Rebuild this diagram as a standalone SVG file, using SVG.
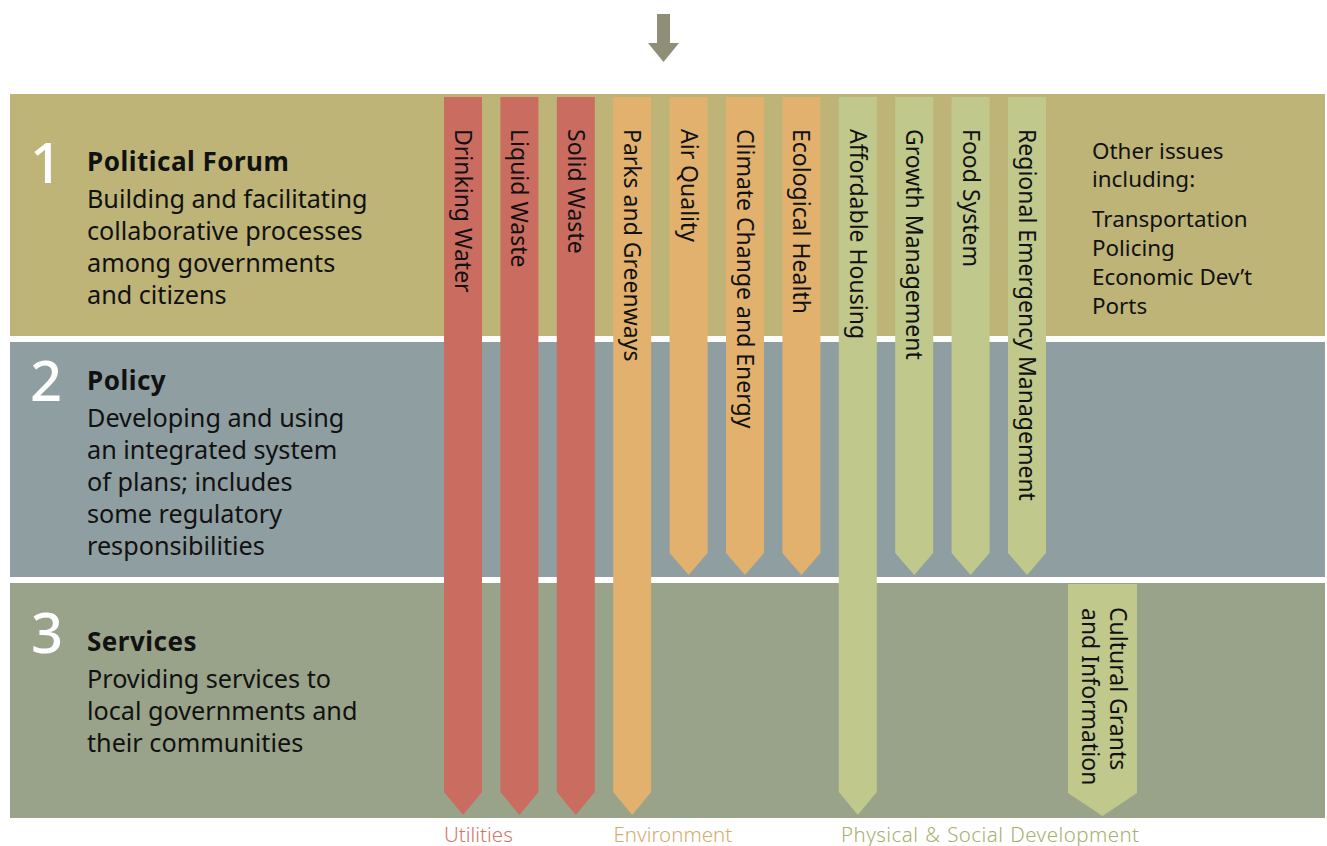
<svg xmlns="http://www.w3.org/2000/svg" width="1327" height="846" viewBox="0 0 1327 846">
<style>
.num{font-family:"Noto Sans","DejaVu Sans",sans-serif;font-size:56px;font-weight:500;fill:#ffffff;text-anchor:middle}
.head{font-family:"Noto Sans","DejaVu Sans",sans-serif;font-size:26px;font-weight:bold;letter-spacing:0.5px;fill:#111}
.body{font-family:"Noto Sans","DejaVu Sans",sans-serif;font-size:25.2px;fill:#111}
.side{font-family:"Noto Sans","DejaVu Sans",sans-serif;font-size:22.4px;fill:#111}
.col{font-family:"Noto Sans","DejaVu Sans",sans-serif;font-size:23px;fill:#111}
.cat{font-family:"Noto Sans","DejaVu Sans",sans-serif;font-size:20.5px;font-weight:300}
.red{fill:#cb6c60}
.org{fill:#e2b16e}
.grn{fill:#c0c88c}
</style>
<rect width="1327" height="846" fill="#ffffff"/>
<g id="top-arrow">
<polygon points="657,14 670,14 670,43 679,43 663.5,62 648,43 657,43" fill="#8f8f78"/>
</g>
<g id="band-1">
<rect x="10" y="94" width="1315" height="242" fill="#beb478"/>
<text class="num" x="46" y="182.5">1</text>
<text class="head" x="87" y="171">Political Forum</text>
<text class="body" x="87" y="208">Building and facilitating</text>
<text class="body" x="87" y="240">collaborative processes</text>
<text class="body" x="87" y="272">among governments</text>
<text class="body" x="87" y="304">and citizens</text>
<text class="side" x="1092" y="159">Other issues</text>
<text class="side" x="1092" y="187">including:</text>
<text class="side" x="1092" y="227">Transportation</text>
<text class="side" x="1092" y="256">Policing</text>
<text class="side" x="1092" y="285">Economic Dev’t</text>
<text class="side" x="1092" y="313.5">Ports</text>
</g>
<g id="band-2">
<rect x="10" y="342" width="1315" height="235" fill="#8f9ea0"/>
<text class="num" x="46" y="401">2</text>
<text class="head" x="87" y="389.5">Policy</text>
<text class="body" x="87" y="427">Developing and using</text>
<text class="body" x="87" y="459">an integrated system</text>
<text class="body" x="87" y="491">of plans; includes</text>
<text class="body" x="87" y="523">some regulatory</text>
<text class="body" x="87" y="555">responsibilities</text>
</g>
<g id="band-3">
<rect x="10" y="583" width="1315" height="235" fill="#98a38a"/>
<text class="num" x="47" y="653">3</text>
<text class="head" x="87" y="650.5">Services</text>
<text class="body" x="87" y="688">Providing services to</text>
<text class="body" x="87" y="720">local governments and</text>
<text class="body" x="87" y="751.5">their communities</text>
</g>
<g id="connectors">
<g id="col-drinking-water">
<polygon class="red" points="444,97 482,97 482,792 463,815 444,792"/>
<text class="col" transform="translate(455,129) rotate(90)">Drinking Water</text>
</g>
<g id="col-liquid-waste">
<polygon class="red" points="500.4,97 538.4,97 538.4,792 519.4,815 500.4,792"/>
<text class="col" transform="translate(511.4,129) rotate(90)">Liquid Waste</text>
</g>
<g id="col-solid-waste">
<polygon class="red" points="556.8,97 594.8,97 594.8,792 575.8,815 556.8,792"/>
<text class="col" transform="translate(567.8,129) rotate(90)">Solid Waste</text>
</g>
<g id="col-parks">
<polygon class="org" points="613.2,97 651.2,97 651.2,792 632.2,815 613.2,792"/>
<text class="col" transform="translate(624.2,129) rotate(90)">Parks and Greenways</text>
</g>
<g id="col-air">
<polygon class="org" points="669.6,97 707.6,97 707.6,553 688.6,575 669.6,553"/>
<text class="col" transform="translate(680.6,129) rotate(90)">Air Quality</text>
</g>
<g id="col-climate">
<polygon class="org" points="726,97 764,97 764,553 745,575 726,553"/>
<text class="col" transform="translate(737,129) rotate(90)">Climate Change and Energy</text>
</g>
<g id="col-ecological">
<polygon class="org" points="782.4,97 820.4,97 820.4,553 801.4,575 782.4,553"/>
<text class="col" transform="translate(793.4,129) rotate(90)">Ecological Health</text>
</g>
<g id="col-housing">
<polygon class="grn" points="838.8,97 876.8,97 876.8,792 857.8,815 838.8,792"/>
<text class="col" transform="translate(849.8,129) rotate(90)">Affordable Housing</text>
</g>
<g id="col-growth">
<polygon class="grn" points="895.2,97 933.2,97 933.2,553 914.2,575 895.2,553"/>
<text class="col" transform="translate(906.2,129) rotate(90)">Growth Management</text>
</g>
<g id="col-food">
<polygon class="grn" points="951.6,97 989.6,97 989.6,553 970.6,575 951.6,553"/>
<text class="col" transform="translate(962.6,129) rotate(90)">Food System</text>
</g>
<g id="col-emergency">
<polygon class="grn" points="1008,97 1046,97 1046,553 1027,575 1008,553"/>
<text class="col" transform="translate(1019,129) rotate(90)">Regional Emergency Management</text>
</g>
<g id="col-cultural">
<polygon class="grn" points="1068,584 1137,584 1137,793 1102.5,816 1068,793"/>
<text class="col" transform="translate(1110,607) rotate(90)">Cultural Grants</text>
<text class="col" transform="translate(1082,608) rotate(90)">and Information</text>
</g>
</g>
<g id="legend">
<text class="cat" x="444" y="841.5" fill="#d0766b">Utilities</text>
<text class="cat" x="613.5" y="841.5" fill="#d9aa6c">Environment</text>
<text class="cat" x="841" y="841.5" fill="#a7b06e" letter-spacing="0.45" word-spacing="1">Physical &amp; Social Development</text>
</g>
</svg>
